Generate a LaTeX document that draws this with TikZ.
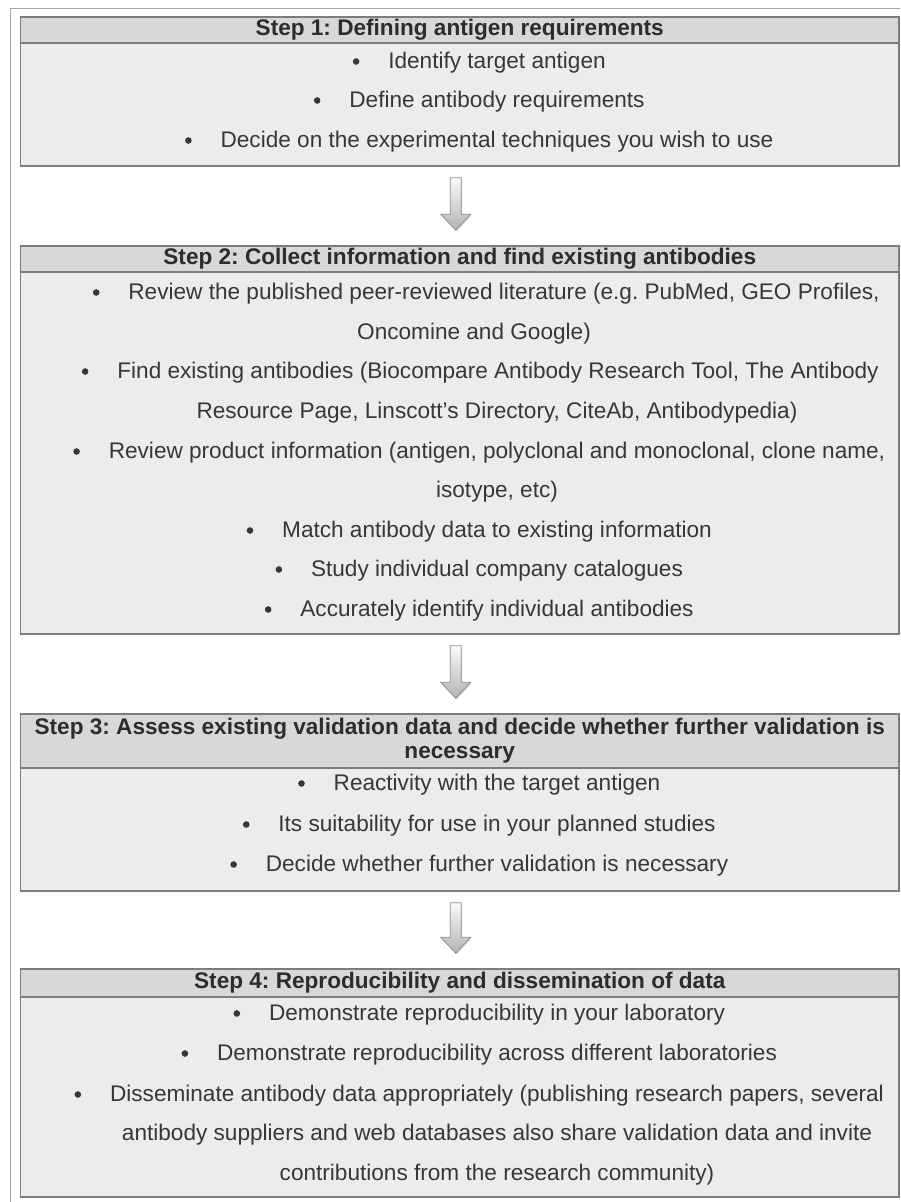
\documentclass[tikz,border=0pt]{standalone}
\usepackage{fontspec}
\setmainfont{Liberation Sans}
\usetikzlibrary{calc,shadows}
\frenchspacing

\definecolor{headgray}{RGB}{216,216,216}
\definecolor{bodygray}{RGB}{236,236,236}
\definecolor{boxline}{RGB}{125,125,125}
\definecolor{ink}{RGB}{55,55,55}
\definecolor{framegray}{RGB}{165,165,165}
\definecolor{arrowline}{RGB}{140,140,140}

% one text line of a box, with or without a bullet
\newcommand\bulletline[3]{%
  \node[itemtext] (#1) at (#2) {#3};
  \fill[ink] ([xshift=-32pt,yshift=6.5pt]#1.base west) circle (3.3pt);}
\newcommand\textline[3]{\node[itemtext] (#1) at (#2) {#3};}
% fat arrow from box #1 down to box #2
\newcommand\blockarrow[2]{%
  \path[arrowbody] let \p1=([xshift=-4pt]#1.south), \p2=(#2.north) in
    (\x1-5.5pt,\y1-11pt) -- (\x1+5.5pt,\y1-11pt) -- (\x1+5.5pt,\y2+31pt)
    -- (\x1+15pt,\y2+31pt) -- (\x1,\y2+15pt) -- (\x1-15pt,\y2+31pt)
    -- (\x1-5.5pt,\y2+31pt) -- cycle;}

\begin{document}
\begin{tikzpicture}[x=1pt,y=-1pt,
  every node/.style={font=\fontsize{22.6}{24}\selectfont},
  stepbody/.style={rectangle, draw=boxline, line width=1.5pt, fill=bodygray, minimum width=878.5pt, inner sep=0pt},
  stephead/.style={stepbody, fill=headgray, text=ink!80!black, align=center, font=\fontsize{22.6}{24}\selectfont\bfseries},
  itemtext/.style={anchor=base, inner sep=0pt, text=ink},
  arrowbody/.style={draw=arrowline, line width=0.8pt, top color=white!96!gray, bottom color=gray!60,
    drop shadow={opacity=0.2, shadow xshift=1pt, shadow yshift=-1.5pt}}]
\useasboundingbox (0,0) rectangle (900,1202);
\fill[white] (0,0) rectangle (900,1202);
\draw[framegray, line width=1pt] (10,1202) -- (10,8) -- (900,8);

% step 1
\node[stepbody, minimum height=123pt] (b1) at (459.75,104.5) {};
\node[stephead, minimum height=26pt] (h1) at (459.75,30) {Step 1: Defining antigen requirements};
\bulletline{s1a}{497,68}{Identify target antigen}
\bulletline{s1b}{497,107}{Define antibody requirements}
\bulletline{s1c}{497,147}{Decide on the experimental techniques you wish to use}

% step 2
\node[stepbody, minimum height=362pt] (b2) at (459.75,453) {};
\node[stephead, minimum height=26pt] (h2) at (459.75,259) {Step 2: Collect information and find existing antibodies};
\bulletline{s2a}{504,299}{Review the published peer-reviewed literature (e.g. PubMed, GEO Profiles,}
\textline{s2b}{474,339}{Oncomine and Google)}
\bulletline{s2c}{498,378}{Find existing antibodies (Biocompare Antibody Research Tool, The Antibody}
\textline{s2d}{497,418}{Resource Page, Linscott's Directory, CiteAb, Antibodypedia)}
\bulletline{s2e}{497,458}{Review product information (antigen, polyclonal and monoclonal, clone name,}
\textline{s2f}{497,497}{isotype, etc)}
\bulletline{s2g}{497,537}{Match antibody data to existing information}
\bulletline{s2h}{497,576}{Study individual company catalogues}
\bulletline{s2i}{497,616}{Accurately identify individual antibodies}

% step 3
\node[stepbody, minimum height=123pt] (b3) at (459.75,829.5) {};
\node[stephead, minimum height=54pt] (h3) at (459.75,741) {Step 3: Assess existing validation data and decide whether further validation is\\necessary};
\bulletline{s3a}{497,790}{Reactivity with the target antigen}
\bulletline{s3b}{497,831}{Its suitability for use in your planned studies}
\bulletline{s3c}{497,871}{Decide whether further validation is necessary}

% step 4
\node[stepbody, minimum height=200pt] (b4) at (459.75,1097) {};
\node[stephead, minimum height=28pt] (h4) at (459.75,983) {Step 4: Reproducibility and dissemination of data};
\bulletline{s4a}{497,1020}{Demonstrate reproducibility in your laboratory}
\bulletline{s4b}{497,1060}{Demonstrate reproducibility across different laboratories}
\bulletline{s4c}{497,1101}{Disseminate antibody data appropriately (publishing research papers, several}
\textline{s4d}{497,1140}{antibody suppliers and web databases also share validation data and invite}
\textline{s4e}{497,1180}{contributions from the research community)}

% arrows
\blockarrow{b1}{h2}
\blockarrow{b2}{h3}
\blockarrow{b3}{h4}
\end{tikzpicture}
\end{document}
